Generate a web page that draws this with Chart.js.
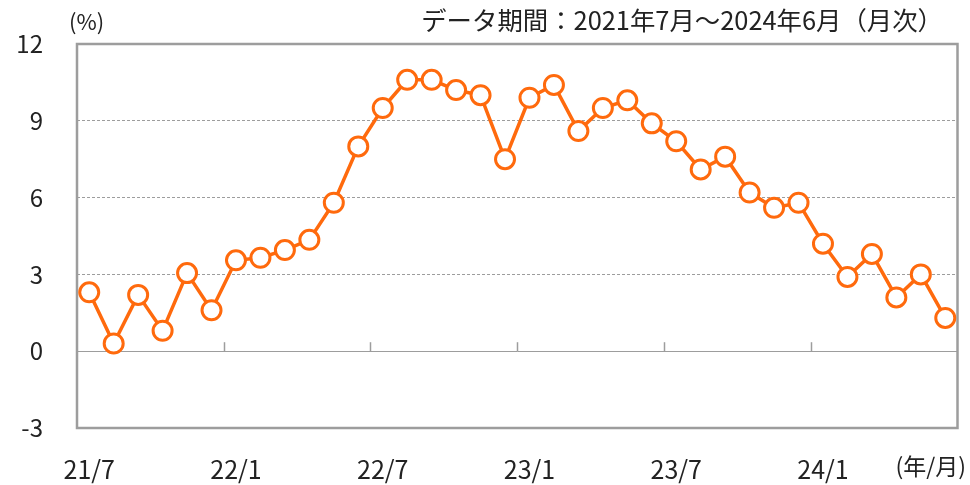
<!DOCTYPE html>
<html lang="ja">
<head>
<meta charset="utf-8">
<script src="https://cdn.jsdelivr.net/npm/chart.js@4/dist/chart.umd.min.js"></script>
<style>
  html, body { margin: 0; padding: 0; background: #fff; }
  #wrap { position: relative; width: 970px; height: 485px; }
</style>
</head>
<body>
<div id="wrap"><canvas id="rateChart"></canvas></div>
<script>
// months 2021/7 - 2024/6
const months = [
    '21/7', '21/8', '21/9', '21/10', '21/11', '21/12',
    '22/1', '22/2', '22/3', '22/4', '22/5', '22/6',
    '22/7', '22/8', '22/9', '22/10', '22/11', '22/12',
    '23/1', '23/2', '23/3', '23/4', '23/5', '23/6',
    '23/7', '23/8', '23/9', '23/10', '23/11', '23/12',
    '24/1', '24/2', '24/3', '24/4', '24/5', '24/6'
];
const rates = [
    2.3, 0.3, 2.2, 0.8, 3.05, 1.6,
    3.55, 3.65, 3.95, 4.35, 5.8, 8.0,
    9.5, 10.6, 10.6, 10.2, 10.0, 7.5,
    9.9, 10.4, 8.6, 9.5, 9.8, 8.9,
    8.2, 7.1, 7.6, 6.2, 5.6, 5.8,
    4.2, 2.9, 3.8, 2.1, 3.0, 1.3
];
const shownMonths = ['21/7', '22/1', '22/7', '23/1', '23/7', '24/1'];
const yTicks = [-3, 0, 3, 6, 9, 12];

const titleText = 'データ期間：2021年7月～2024年6月（月次）';
const yUnit = '(%)';
const xUnit = '(年/月)';

const FONT = '"Noto Sans CJK JP", "Noto Sans", sans-serif';
const ORANGE = '#ff6a0d';
const GRAY = '#9d9d9d';

// frame, small ticks on the zero line, unit labels
const decorations = {
    id: 'decorations',
    beforeDatasetsDraw(chart) {
        const { ctx, chartArea: a, scales: { x, y } } = chart;
        const y0 = y.getPixelForValue(0);
        const half = (x.getPixelForValue(1) - x.getPixelForValue(0)) / 2;
        ctx.save();
        ctx.strokeStyle = GRAY;
        ctx.lineWidth = 1.5;
        months.forEach((m, i) => {
            if (i > 0 && shownMonths.includes(m)) {
                const px = Math.round(x.getPixelForValue(i) - half) + 0.5;
                ctx.beginPath();
                ctx.moveTo(px, y0);
                ctx.lineTo(px, y0 - 9);
                ctx.stroke();
            }
        });
        ctx.lineWidth = 2.5;
        ctx.strokeRect(a.left, a.top, a.right - a.left, a.bottom - a.top);
        ctx.restore();
    },
    afterDraw(chart) {
        const { ctx } = chart;
        ctx.save();
        ctx.fillStyle = '#222';
        ctx.textBaseline = 'middle';
        ctx.font = '22px ' + FONT;
        ctx.textAlign = 'left';
        ctx.fillText(yUnit, 69, 22);
        ctx.font = '25.4px ' + FONT;
        ctx.textAlign = 'right';
        ctx.fillText(titleText, 943, 20);
        ctx.font = '23px ' + FONT;
        ctx.fillText(xUnit, 966, 466);
        ctx.restore();
    }
};

const ctx = document.getElementById('rateChart').getContext('2d');
new Chart(ctx, {
    type: 'line',
    data: {
        labels: months,
        datasets: [{
            data: rates,
            borderColor: ORANGE,
            borderWidth: 3.5,
            pointRadius: 9.5,
            pointBorderWidth: 3,
            pointBackgroundColor: '#fff',
            pointBorderColor: ORANGE,
            tension: 0,
            fill: false
        }]
    },
    options: {
        responsive: true,
        maintainAspectRatio: false,
        animation: false,
        layout: { padding: { top: 44, right: 10, left: 0, bottom: 0 } },
        plugins: {
            legend: { display: false },
            tooltip: { enabled: false }
        },
        scales: {
            x: {
                offset: true,
                grid: { display: false },
                border: { display: false },
                ticks: {
                    autoSkip: false,
                    maxRotation: 0,
                    padding: 18,
                    color: '#222',
                    font: { family: FONT, size: 25 },
                    callback: (v, i) => shownMonths.includes(months[i]) ? months[i] : ''
                },
                afterFit: s => { s.height = 57; }
            },
            y: {
                min: -3,
                max: 12,
                afterBuildTicks: s => { s.ticks = yTicks.map(v => ({ value: v })); },
                grid: {
                    drawTicks: true,
                    tickLength: 30,
                    tickColor: 'rgba(0,0,0,0)',
                    lineWidth: 1,
                    color: c => (c.tick && (c.tick.value === -3 || c.tick.value === 12)) ? 'rgba(0,0,0,0)' : GRAY
                },
                border: {
                    display: false,
                    dash: c => (c.tick && c.tick.value === 0) ? [] : [3, 2]
                },
                ticks: {
                    padding: 4,
                    color: '#222',
                    font: { family: FONT, size: 24 }
                },
                afterFit: s => { s.width = 77; }
            }
        }
    },
    plugins: [decorations]
});
</script>
</body>
</html>
